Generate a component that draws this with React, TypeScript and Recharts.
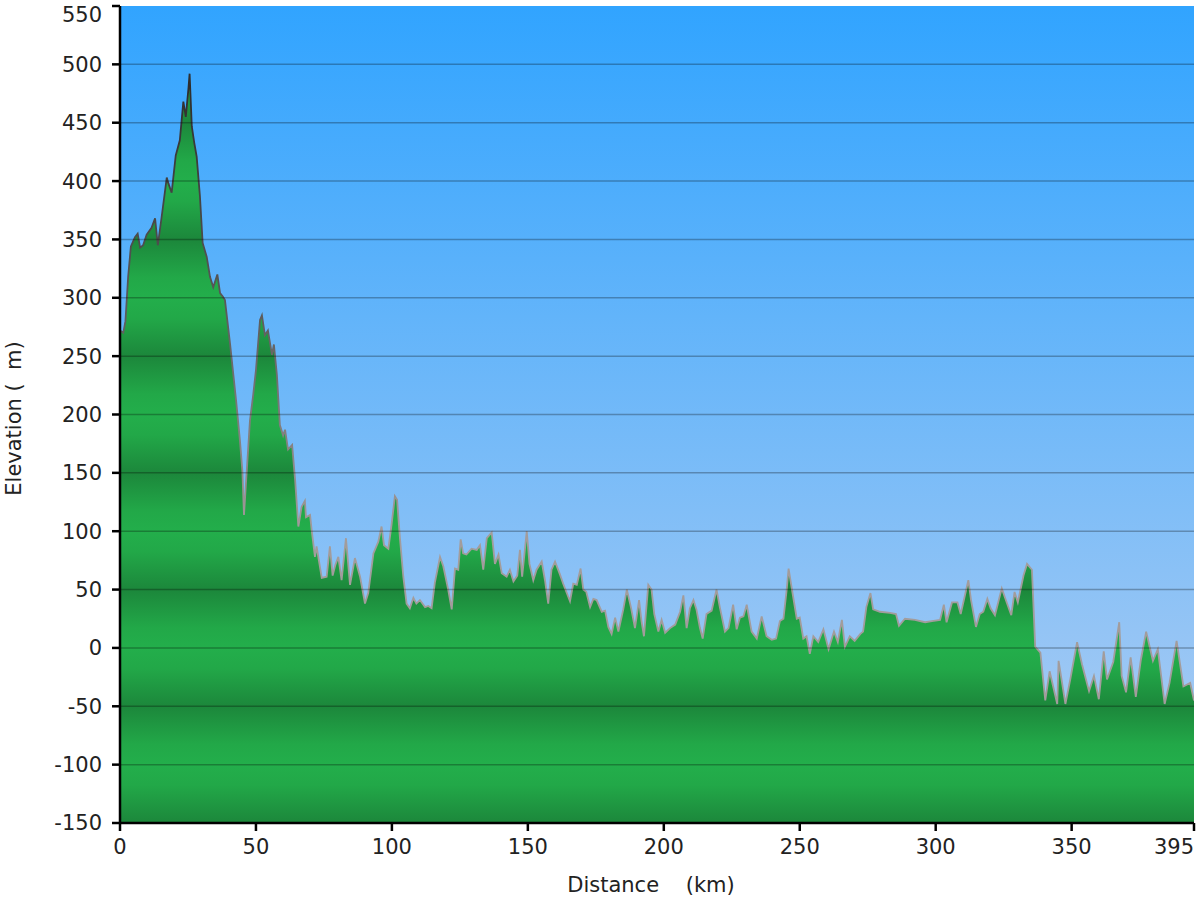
import * as React from 'react';
import { AreaChart, Area, XAxis, YAxis, CartesianGrid, ReferenceLine, Label } from 'recharts';

// distance along the route (km) and elevation (m)
const DISTANCE_KM = [
  0, 1.2, 2, 3, 4, 5.5, 6.5, 7.4, 8.5, 9.8, 11.6, 12.9, 13.9, 15.3, 17.2, 17.8, 19, 20.5, 22, 23.3,
  24.2, 25.2, 25.6, 26.4, 27.3, 28.2, 29.4, 30.4, 31.9, 33.1, 34.3, 35.8, 36.8, 37.8, 38.6, 40.5, 42.7, 44.1, 45, 45.6,
  46.3, 47.8, 49, 50, 51.5, 52.2, 53.3, 54.4, 55.9, 56.6, 57.7, 58.8, 60, 60.7, 61.8, 63.3, 64.4, 65.6, 66.8, 68,
  68.4, 69.9, 70.5, 71.7, 72.3, 74.2, 76, 77.2, 78.2, 79.2, 80.3, 81.5, 83.1, 84.6, 86.4, 88.3, 90.1, 91.3, 93.2, 95,
  96.2, 97.1, 98.7, 99.9, 101.1, 101.9, 103, 104.2, 105.4, 106.6, 107.9, 109, 110.3, 112.2, 113.4, 114.6, 115.8, 117.7, 118.9, 120.7,
  122, 123.2, 124.4, 125.3, 126.2, 127.4, 129.3, 131.2, 132.4, 133.6, 134.9, 136.7, 137.9, 139.2, 140.4, 142.2, 143.4, 144.7, 146.1, 147.1,
  147.9, 149.6, 150.6, 152, 153.2, 155.1, 156.3, 157.5, 158.7, 160, 161.8, 163, 165.5, 166.7, 168, 169.4, 170.4, 171.5, 172.9, 174.1,
  175.3, 177.2, 178.4, 179.6, 180.8, 182.1, 183.3, 185.1, 186.4, 187.9, 189.4, 190.9, 191.8, 192.7, 194.3, 195.5, 196.5, 198, 199.2, 200.5,
  202.3, 204.2, 206, 207.2, 208.4, 209.6, 210.9, 212, 213.3, 214.3, 215.7, 217.6, 219.4, 220.6, 222.5, 223.8, 225.5, 226.8, 228, 229.3,
  230.5, 232.3, 234.2, 236, 237.8, 239.7, 241.3, 242.7, 244, 245.2, 245.9, 247, 248.9, 250, 251.3, 252.5, 253.7, 255, 256.8, 258.7,
  260.6, 262.6, 264, 265.5, 266.6, 268.4, 270.2, 272.3, 273.3, 274.5, 276, 277, 279.5, 283.2, 285.4, 286.5, 288.7, 292.4, 296.1, 298.6,
  301.6, 303, 304, 306, 308, 309.2, 312, 313, 314.8, 316.2, 317.5, 319, 320.2, 321.8, 324.3, 325.5, 327.8, 329, 330.2, 332.3,
  333.6, 335.4, 336.6, 338.5, 340.3, 341.9, 344.7, 345.2, 347.7, 349.5, 352, 353.8, 356.4, 358.2, 360, 361.8, 363, 365.3, 367.5, 368.4,
  370, 371.7, 373.6, 375.4, 377.4, 379.9, 381.7, 384.2, 386, 388.6, 391.1, 393.6, 395,
];
const ELEVATION_M = [
  272, 270, 280, 318, 344, 352, 355, 343, 345, 354, 360, 368, 345, 369, 403, 398, 390, 422, 435, 468,
  455, 480, 492, 447, 433, 421, 387, 347, 335, 318, 309, 320, 304, 301, 298, 260, 212, 178, 152, 114,
  140, 195, 217, 238, 281, 285, 268, 272, 251, 260, 234, 191, 182, 187, 170, 174, 144, 104, 121, 126,
  112, 114, 101, 78, 87, 60, 61, 87, 62, 71, 78, 58, 94, 54, 77, 61, 38, 47, 81, 91,
  104, 88, 85, 106, 130, 127, 93, 61, 38, 34, 43, 38, 41, 35, 36, 34, 56, 78, 70, 50,
  33, 68, 67, 93, 81, 80, 85, 84, 88, 67, 94, 99, 72, 80, 64, 61, 67, 57, 62, 84,
  61, 100, 72, 58, 67, 74, 58, 38, 67, 74, 63, 55, 40, 55, 54, 68, 50, 48, 35, 42,
  41, 31, 32, 18, 12, 26, 14, 33, 50, 35, 17, 41, 23, 10, 54, 50, 29, 14, 24, 13,
  17, 20, 31, 45, 17, 34, 41, 33, 17, 8, 29, 32, 50, 35, 14, 17, 37, 16, 26, 27,
  37, 14, 8, 27, 10, 7, 8, 23, 25, 50, 68, 52, 25, 26, 8, 10, -5, 10, 5, 16,
  -1, 14, 5, 24, 1, 10, 6, 12, 14, 35, 47, 33, 31, 30, 29, 19, 25, 24, 22, 23,
  24, 37, 22, 39, 39, 29, 58, 41, 18, 29, 31, 42, 34, 28, 51, 43, 28, 48, 39, 62,
  72, 67, 1, -4, -45, -20, -48, -11, -48, -27, 5, -14, -37, -24, -44, -3, -27, -12, 22, -24,
  -38, -8, -42, -11, 14, -11, -1, -48, -30, 6, -33, -30, -45,
];

const X_TICKS = [0, 50, 100, 150, 200, 250, 300, 350, 395];
const Y_TICKS = [-150, -100, -50, 0, 50, 100, 150, 200, 250, 300, 350, 400, 450, 500, 550];
const GRID_LINES = [-100, -50, 0, 50, 100, 150, 200, 250, 300, 350, 400, 450, 500];
const X_TITLE = 'Distance\u00a0\u00a0\u00a0\u00a0(km)';
const Y_TITLE = 'Elevation (\u00a0\u00a0m)';

const data = DISTANCE_KM.map((km, i) => ({ km, elev: ELEVATION_M[i] }));

const W = 1200;
const H = 900;
const MARGIN = { top: 6, right: 6, left: 0, bottom: 0 };
const Y_AXIS_W = 120;
const X_AXIS_H = 77;
const Y_MIN = -150;
const Y_MAX = 550;
const X_MAX = 395;
const PLOT_H = H - MARGIN.top - MARGIN.bottom - X_AXIS_H;
const PLOT_BOTTOM = MARGIN.top + PLOT_H;
const yPx = (v: number) => MARGIN.top + ((Y_MAX - v) / (Y_MAX - Y_MIN)) * PLOT_H;

const FONT_FAMILY = '"DejaVu Sans", Verdana, sans-serif';
const TEXT_COLOR = '#222';

const XTick = (props: any) => {
  const { x, y, payload } = props;
  const last = payload.value === X_MAX;
  return (
    <text x={x} y={y} dy="0.71em" textAnchor={last ? 'end' : 'middle'} fontFamily={FONT_FAMILY} fontSize={21} fill={TEXT_COLOR}>
      {payload.value}
    </text>
  );
};

const YTick = (props: any) => {
  const { x, y, payload } = props;
  // the top label is pushed down so it stays inside the picture
  const shift = payload.value === Y_MAX ? 9 : 0;
  return (
    <text x={x} y={y + shift} dy="0.355em" textAnchor="end" fontFamily={FONT_FAMILY} fontSize={21} fill={TEXT_COLOR}>
      {payload.value}
    </text>
  );
};

const XTitle = (props: any) => {
  const vb = props.viewBox || { x: 120, width: 1074 };
  const cx = vb.x + vb.width / 2 - 6;
  const cy = PLOT_BOTTOM + 62;
  return (
    <text x={cx} y={cy} dy="0.355em" textAnchor="middle" fontFamily={FONT_FAMILY} fontSize={21} fill={TEXT_COLOR}>
      {X_TITLE}
    </text>
  );
};

const YTitle = (props: any) => {
  const vb = props.viewBox || { x: 0, y: 6, width: 120, height: 817 };
  const cx = vb.x + 14;
  const cy = vb.y + vb.height / 2 + 4;
  return (
    <text
      x={cx}
      y={cy}
      dy="0.355em"
      textAnchor="middle"
      transform={`rotate(-90, ${cx}, ${cy})`}
      fontFamily={FONT_FAMILY}
      fontSize={21}
      fill={TEXT_COLOR}
    >
      {Y_TITLE}
    </text>
  );
};

export default function App() {
  return (
    <div style={{ position: 'absolute', left: 0, top: 0, width: W, height: H, background: '#fff' }}>
      <AreaChart width={W} height={H} data={data} margin={MARGIN}>
        <defs>
          <linearGradient id="sky" x1="0" y1="0" x2="0" y2="1">
            <stop offset="0%" stopColor="#31a4ff" />
            <stop offset="100%" stopColor="#b2cef2" />
          </linearGradient>
          <linearGradient id="land" gradientUnits="userSpaceOnUse" x1="0" y1={yPx(0)} x2="0" y2={yPx(-50)} spreadMethod="reflect">
            <stop offset="0%" stopColor="#23ae4b" />
            <stop offset="35%" stopColor="#22a848" />
            <stop offset="100%" stopColor="#1c873b" />
          </linearGradient>
          <linearGradient id="edge" gradientUnits="userSpaceOnUse" x1="0" y1={yPx(480)} x2="0" y2={yPx(100)}>
            <stop offset="0%" stopColor="#2e2e2e" />
            <stop offset="50%" stopColor="#5a5a5a" />
            <stop offset="100%" stopColor="#a29c9c" />
          </linearGradient>
        </defs>
        <CartesianGrid horizontal={false} vertical={false} fill="url(#sky)" fillOpacity={1} />
        <XAxis
          dataKey="km"
          type="number"
          domain={[0, X_MAX]}
          ticks={X_TICKS}
          interval={0}
          height={X_AXIS_H}
          tick={<XTick />}
          tickSize={8}
          tickMargin={8}
          axisLine={{ stroke: '#000', strokeWidth: 2.5 }}
          tickLine={{ stroke: '#000', strokeWidth: 2.5 }}
          allowDataOverflow
        >
          <Label content={<XTitle />} />
        </XAxis>
        <YAxis
          type="number"
          domain={[Y_MIN, Y_MAX]}
          ticks={Y_TICKS}
          interval={0}
          width={Y_AXIS_W}
          tick={<YTick />}
          tickSize={8}
          tickMargin={10}
          axisLine={{ stroke: '#000', strokeWidth: 2.5 }}
          tickLine={{ stroke: '#000', strokeWidth: 2.5 }}
          allowDataOverflow
        >
          <Label content={<YTitle />} />
        </YAxis>
        <Area
          type="linear"
          dataKey="elev"
          baseValue={Y_MIN}
          stroke="url(#edge)"
          strokeWidth={1.8}
          fill="url(#land)"
          fillOpacity={1}
          isAnimationActive={false}
          dot={false}
          activeDot={false}
        />
        {GRID_LINES.map((v) => (
          <ReferenceLine key={v} y={v} stroke="#000" strokeOpacity={0.28} strokeWidth={1.5} />
        ))}
      </AreaChart>
    </div>
  );
}
